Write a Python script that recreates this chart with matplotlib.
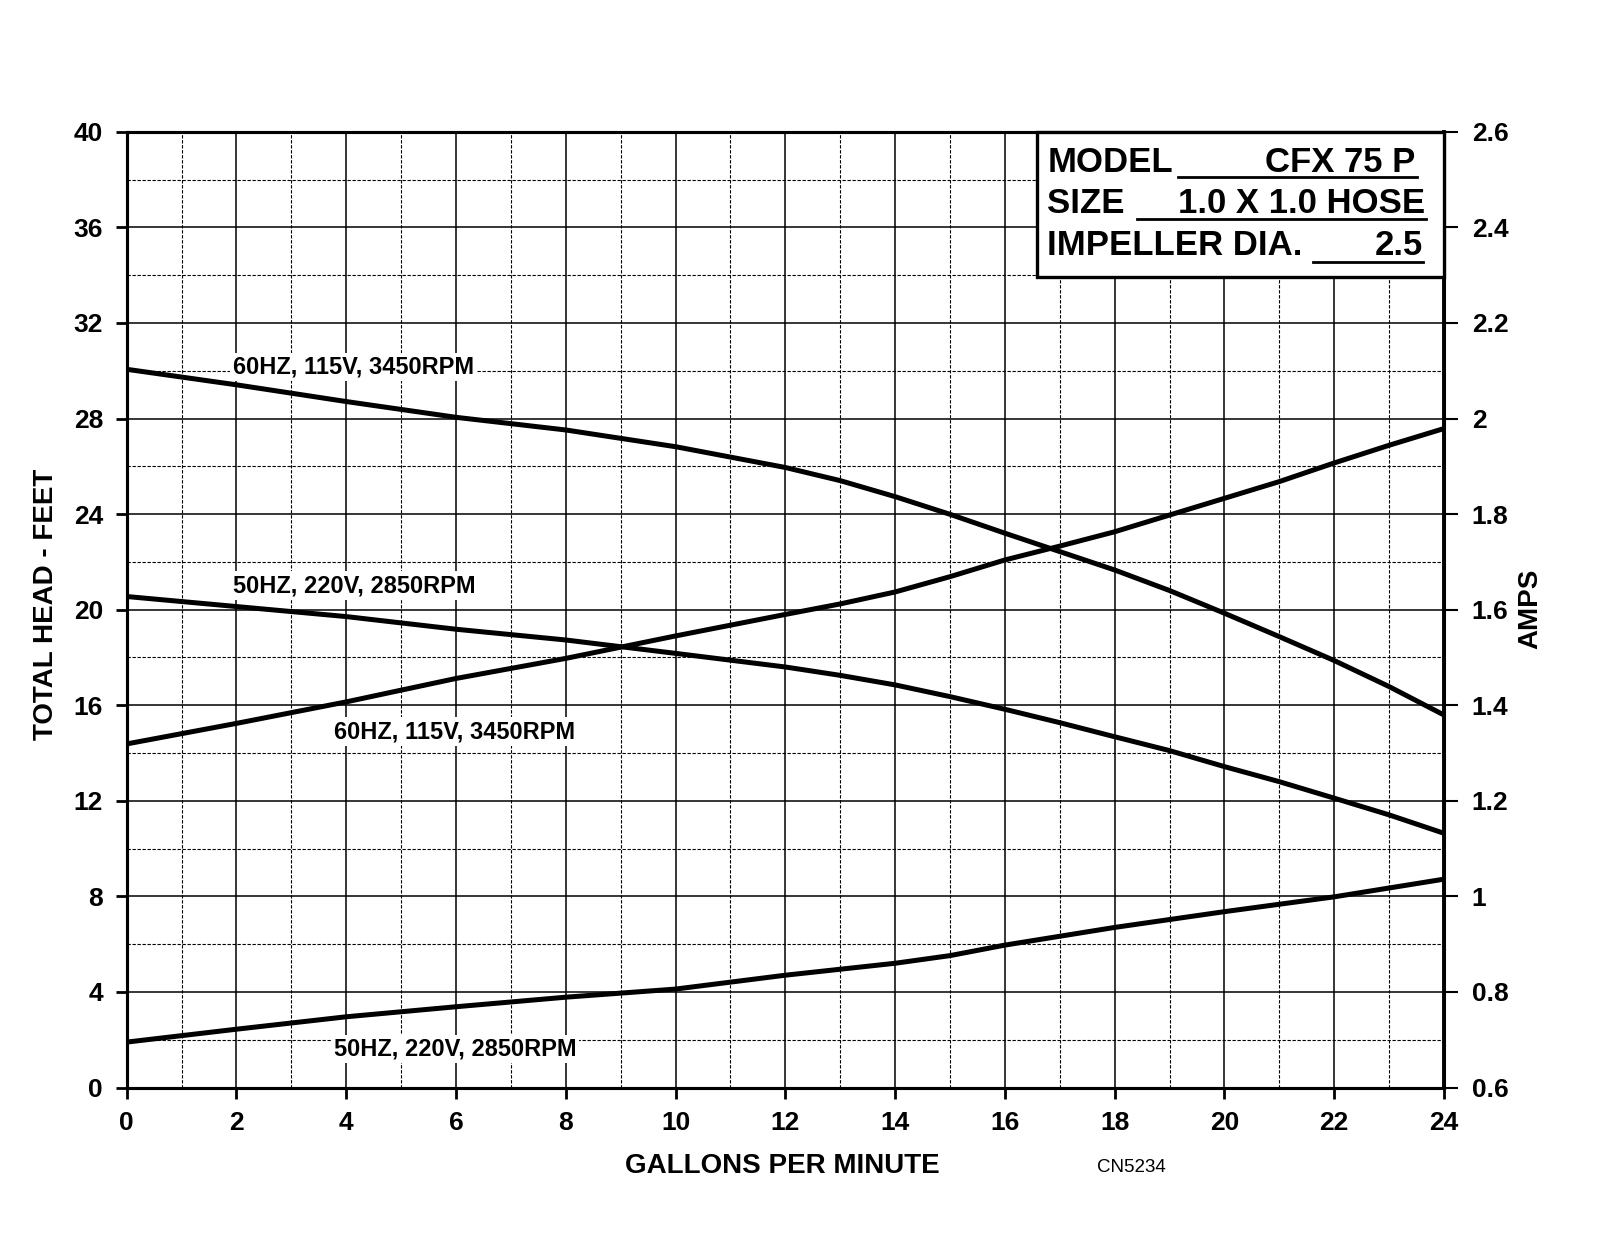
import matplotlib
matplotlib.use("Agg")
import matplotlib.pyplot as plt
from matplotlib.patches import Rectangle
from matplotlib.lines import Line2D

plt.rcParams['font.family'] = ['Liberation Sans', 'DejaVu Sans']
plt.rcParams['font.weight'] = 'bold'

# ---- data ----
head60_gpm = [0, 2, 4, 6, 8, 10, 12, 13, 14, 15, 16, 17, 18, 19, 20, 21, 22, 23, 24]
head60_ft = [30.06, 29.41, 28.71, 28.05, 27.52, 26.82, 25.95, 25.4, 24.73, 23.99, 23.2,
             22.43, 21.66, 20.80, 19.85, 18.87, 17.87, 16.78, 15.59]

head50_gpm = [0, 2, 4, 6, 8, 10, 12, 13, 14, 15, 16, 17, 18, 19, 20, 21, 22, 23, 24]
head50_ft = [20.55, 20.13, 19.71, 19.18, 18.73, 18.17, 17.6, 17.25, 16.85, 16.36, 15.83,
             15.27, 14.68, 14.10, 13.43, 12.8, 12.11, 11.41, 10.64]

amps60_gpm = [0, 2, 4, 6, 8, 10, 12, 13, 14, 15, 16, 17, 18, 19, 20, 21, 22, 23, 24]
amps60_a = [1.319, 1.362, 1.407, 1.456, 1.498, 1.545, 1.59, 1.612, 1.637, 1.669, 1.704,
            1.733, 1.763, 1.798, 1.833, 1.868, 1.907, 1.944, 1.979]

amps50_gpm = [0, 2, 4, 6, 8, 10, 12, 14, 15, 16, 18, 20, 22, 24]
amps50_a = [0.695, 0.722, 0.748, 0.769, 0.789, 0.806, 0.835, 0.860, 0.876, 0.898,
            0.935, 0.968, 0.999, 1.036]

x_ticks = list(range(0, 25, 2))
y_ticks = list(range(0, 41, 4))
amp_ticks = [0.6, 0.8, 1.0, 1.2, 1.4, 1.6, 1.8, 2.0, 2.2, 2.4, 2.6]
amp_labels = ['0.6', '0.8', '1', '1.2', '1.4', '1.6', '1.8', '2', '2.2', '2.4', '2.6']

curve_labels = ['60HZ, 115V, 3450RPM', '50HZ, 220V, 2850RPM',
                '60HZ, 115V, 3450RPM', '50HZ, 220V, 2850RPM']

# ---- figure ----
W, H = 1600, 1236
fig = plt.figure(figsize=(16, 12.36), dpi=100)
ax = fig.add_axes([126.7 / W, 1 - 1087.5 / H, 1317.3 / W, 955.7 / H])
ax2 = ax.twinx()

ax.set_xlim(0, 24)
ax.set_ylim(0, 40)
ax2.set_ylim(0.6, 2.6)

# grid
for gx in range(1, 24):
    if gx % 2 == 0:
        ax.axvline(gx, color='black', lw=1.1, zorder=1)
    else:
        ax.axvline(gx, color='black', lw=0.8, ls=(0, (3, 1.5)), zorder=1)
for gy in range(2, 40, 2):
    if gy % 4 == 0:
        ax.axhline(gy, color='black', lw=1.1, zorder=1)
    else:
        ax.axhline(gy, color='black', lw=0.8, ls=(0, (3, 1.5)), zorder=1)

# curves
lw = 3.6
ax.plot(head60_gpm, head60_ft, color='black', lw=lw, zorder=3, solid_capstyle='butt', solid_joinstyle='round')
ax.plot(head50_gpm, head50_ft, color='black', lw=lw, zorder=3, solid_capstyle='butt', solid_joinstyle='round')
ax2.plot(amps60_gpm, amps60_a, color='black', lw=lw, zorder=3, solid_capstyle='butt', solid_joinstyle='round')
ax2.plot(amps50_gpm, amps50_a, color='black', lw=lw, zorder=3, solid_capstyle='butt', solid_joinstyle='round')

# curve labels
bb = dict(boxstyle='square,pad=0.12', fc='white', ec='none')
lab_fs = 17
ax.text(1.94, 30.16, curve_labels[0], fontsize=lab_fs, fontweight='bold', ha='left', va='center', bbox=bb, zorder=4)
ax.text(1.94, 21.0, curve_labels[1], fontsize=lab_fs, fontweight='bold', ha='left', va='center', bbox=bb, zorder=4)
ax.text(3.77, 14.9, curve_labels[2], fontsize=lab_fs, fontweight='bold', ha='left', va='center', bbox=bb, zorder=4)
ax.text(3.77, 1.61, curve_labels[3], fontsize=lab_fs, fontweight='bold', ha='left', va='center', bbox=bb, zorder=4)

# ticks
ax.set_xticks(x_ticks)
ax.set_yticks(y_ticks)
ax2.set_yticks(amp_ticks)
ax2.set_yticklabels(amp_labels)
ax.tick_params(axis='x', direction='out', length=8, width=2, pad=9, labelsize=19)
ax.tick_params(axis='y', direction='out', length=8, width=2, pad=9, labelsize=19)
ax2.tick_params(axis='y', direction='out', length=10, width=1.5, pad=10, labelsize=19)
for lbl in ax.get_xticklabels() + ax.get_yticklabels() + ax2.get_yticklabels():
    lbl.set_fontweight('bold')

for sp in ax.spines.values():
    sp.set_linewidth(2.2)
for sp in ax2.spines.values():
    sp.set_linewidth(2.2)
ax2.spines['right'].set_linewidth(2.8)

# axis labels
ax.set_xlabel('GALLONS PER MINUTE', fontsize=20, fontweight='bold', va='center')
ax.xaxis.set_label_coords(0.4976, -0.0821)
ax.set_ylabel('TOTAL HEAD - FEET', fontsize=20, fontweight='bold', va='center', ha='center')
ax.yaxis.set_label_coords(-0.0613, 0.505)
ax2.set_ylabel('AMPS', fontsize=20, fontweight='bold', va='center', ha='center', rotation=90)
ax2.yaxis.set_label_coords(1.0655, 0.5007)

# model box
box = Rectangle((0.6912, 0.8481), 1 - 0.6912, 1 - 0.8481, transform=ax2.transAxes,
                fc='white', ec='black', lw=2.4, zorder=10, clip_on=False)
ax2.add_patch(box)
bfs = 25
ax2.text(0.6988, 0.9583, 'MODEL', transform=ax2.transAxes, fontsize=bfs, fontweight='bold', ha='left', va='baseline', zorder=11)
ax2.text(0.9782, 0.9583, 'CFX 75 P', transform=ax2.transAxes, fontsize=bfs, fontweight='bold', ha='right', va='baseline', zorder=11)
ax2.text(0.6988, 0.9153, 'SIZE', transform=ax2.transAxes, fontsize=bfs, fontweight='bold', ha='left', va='baseline', zorder=11)
ax2.text(0.9858, 0.9153, '1.0 X 1.0 HOSE', transform=ax2.transAxes, fontsize=bfs, fontweight='bold', ha='right', va='baseline', zorder=11)
ax2.text(0.6988, 0.8711, 'IMPELLER DIA.', transform=ax2.transAxes, fontsize=bfs, fontweight='bold', ha='left', va='baseline', zorder=11)
ax2.text(0.9843, 0.8711, '2.5', transform=ax2.transAxes, fontsize=bfs, fontweight='bold', ha='right', va='baseline', zorder=11)
for (x0, x1, yy) in [(0.7983, 0.9798, 0.9525), (0.7672, 0.9866, 0.9087), (0.9007, 0.9843, 0.8641)]:
    ax2.add_line(Line2D([x0, x1], [yy, yy], transform=ax2.transAxes, color='black', lw=2.0, zorder=11, clip_on=False))

# drawing number
fig.text(1131 / W, 1 - 1168 / H, 'CN5234', fontsize=13.5, fontweight='normal', ha='center', va='center')

fig.savefig('out.png', dpi=100, facecolor='white')
